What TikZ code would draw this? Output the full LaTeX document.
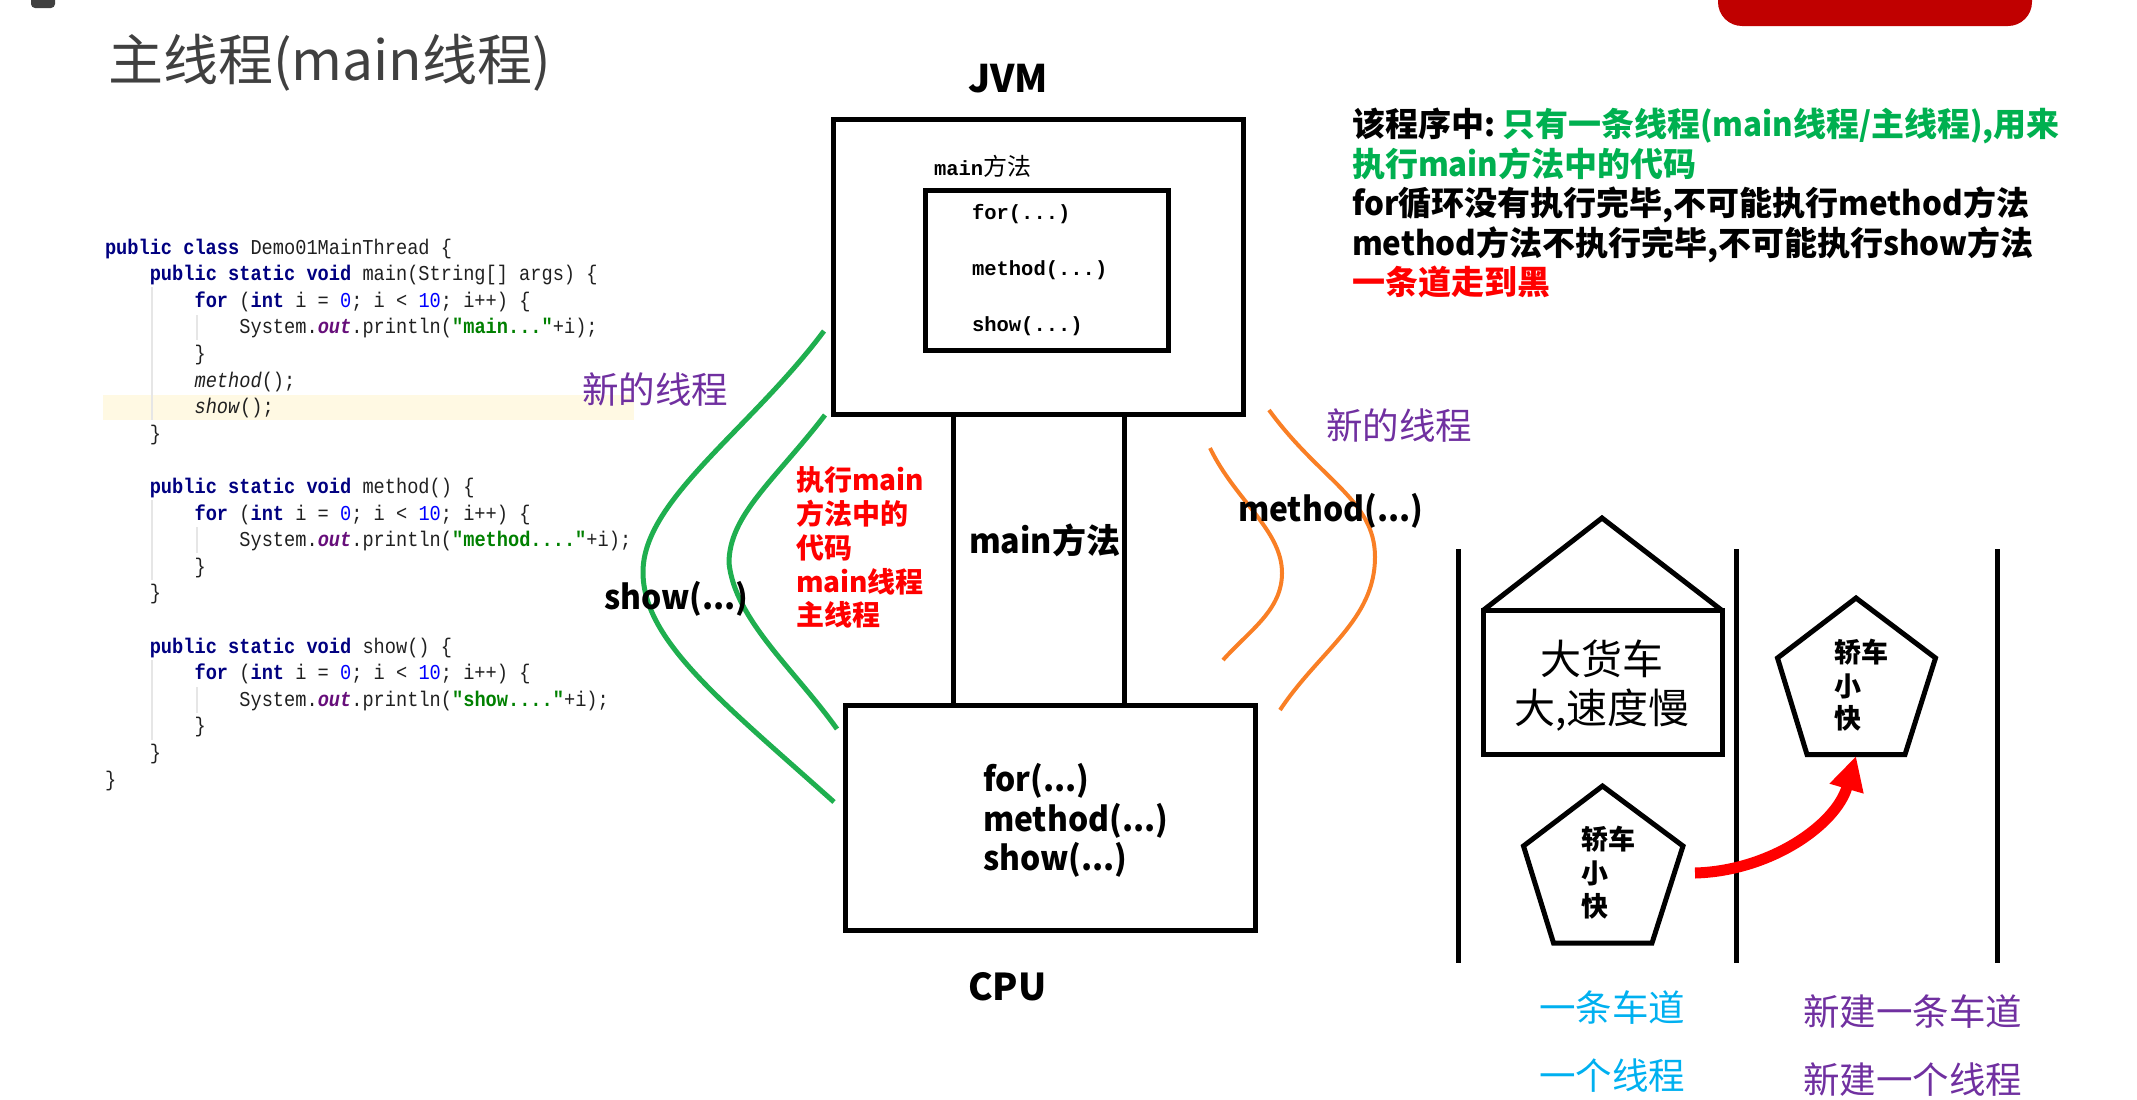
\documentclass[tikz,border=0pt]{standalone}
\usepackage{fontspec}
\usetikzlibrary{arrows.meta}
\setmainfont{Noto Sans CJK SC}
\setmonofont{Liberation Mono}[FakeStretch=0.88]
\newfontfamily\codefont{Liberation Mono}
\newfontfamily\latnarrow{Noto Sans CJK SC}[FakeStretch=0.95]
\newcommand{\lat}[1]{{\latnarrow #1}}
\newcommand{\fs}[1]{\fontsize{#1}{#1}\selectfont}
% syntax colouring for the Java listing
\definecolor{kwblue}{HTML}{000080}
\definecolor{numblue}{HTML}{0000FF}
\definecolor{strgreen}{HTML}{008000}
\definecolor{fieldpurple}{HTML}{660E7A}
\definecolor{codeink}{HTML}{202020}
\definecolor{caretline}{HTML}{FFF9E3}
\definecolor{guide}{HTML}{E6E6E6}
\definecolor{slidegrey}{HTML}{404040}
\definecolor{threadpurple}{HTML}{7030A0}
\definecolor{laneblue}{HTML}{00B0F0}
\definecolor{okgreen}{HTML}{00B050}
\definecolor{threadgreen}{HTML}{1FAF4F}
\definecolor{threadorange}{HTML}{F97F25}
\definecolor{pillred}{HTML}{C00000}
\newcommand{\kw}[1]{\textcolor{kwblue}{\bfseries #1}}
\newcommand{\nm}[1]{\textcolor{numblue}{#1}}
\newcommand{\str}[1]{\textcolor{strgreen}{\bfseries #1}}
\newcommand{\fld}[1]{\textcolor{fieldpurple}{\bfseries\itshape #1}}
\newcommand{\codeline}[3]{\node[codetext] (code#1) at ({105+#2*44.8},{254+#1*26.6}) {#3};}
\tikzset{
  txt/.style={inner sep=0pt,outer sep=0pt,anchor=base west},
  codetext/.style={txt,text=codeink,font=\ttfamily\fs{21.2}},
  title/.style={txt,text=slidegrey,font=\fs{55}},
  heavy/.style={txt,font=\bfseries\fs{#1}},
  narrowheavy/.style={txt,font=\latnarrow\bfseries\fs{#1}},
  light/.style={txt,font=\fs{36.5}},
  inbox/.style={txt,font=\codefont\bfseries\fs{20.5}},
  box/.style={draw=black,line width=5pt,line join=miter},
  guideline/.style={draw=guide,line width=1.2pt},
  greenthread/.style={draw=threadgreen,line width=5pt},
  orangethread/.style={draw=threadorange,line width=4pt},
  lane/.style={draw=black,line width=5pt},
}
\begin{document}
\begin{tikzpicture}[x=1pt,y=-1pt]
\useasboundingbox (0,0) rectangle (2137,1100);
\begin{scope}
  \clip (0,0) rectangle (2137,1100);
  \fill[slidegrey,rounded corners=4pt] (31,-20) rectangle (55,8);
  \fill[pillred,rounded corners=24pt] (1718,-40) rectangle (2032,26);
\end{scope}
\node[title] (heading) at (108,80) {主线程(main线程)};

% highlighted line and indent guides of the listing
\fill[caretline] (103,395) rectangle (634,420);
\foreach \x/\a/\b in {152/287/420,197/315/340,152/500/580,197/527/553,152/660/740,197/687/713}
  \draw[guideline] (\x,\a) -- (\x,\b);

\codeline{0}{0}{\kw{public class} Demo01MainThread \{}
\codeline{1}{1}{\kw{public static void} main(String[] args) \{}
\codeline{2}{2}{\kw{for} (\kw{int} i = \nm{0}; i < \nm{10}; i++) \{}
\codeline{3}{3}{System.\fld{out}.println(\str{"main..."}+i);}
\codeline{4}{2}{\}}
\codeline{5}{2}{\textit{method}();}
\codeline{6}{2}{\textit{show}();}
\codeline{7}{1}{\}}
\codeline{9}{1}{\kw{public static void} method() \{}
\codeline{10}{2}{\kw{for} (\kw{int} i = \nm{0}; i < \nm{10}; i++) \{}
\codeline{11}{3}{System.\fld{out}.println(\str{"method...."}+i);}
\codeline{12}{2}{\}}
\codeline{13}{1}{\}}
\codeline{15}{1}{\kw{public static void} show() \{}
\codeline{16}{2}{\kw{for} (\kw{int} i = \nm{0}; i < \nm{10}; i++) \{}
\codeline{17}{3}{System.\fld{out}.println(\str{"show...."}+i);}
\codeline{18}{2}{\}}
\codeline{19}{1}{\}}
\codeline{20}{0}{\}}

% JVM and CPU boxes joined by the main method column
\draw[box] (833,119) rectangle (1243,414);
\draw[box] (925,190) rectangle (1168,350);
\draw[box] (845,705) rectangle (1255,930);
\coordinate (jvmL) at (953,414);
\coordinate (jvmR) at (1124,414);
\coordinate (cpuL) at (953,705);
\coordinate (cpuR) at (1124,705);
\draw[box] (jvmL) -- (cpuL);
\draw[box] (jvmR) -- (cpuR);

\node[heavy=38] (jvmlabel) at (968,92) {JVM};
\node[heavy=37] (cpulabel) at (968,1000) {CPU};
\node[inbox] (inhead) at (934,175) {main{\rmfamily\mdseries\fs{24}方法}};
\node[inbox] (infor) at (972,219) {for(...)};
\node[inbox] (inmethod) at (972,275) {method(...)};
\node[inbox] (inshow) at (972,331) {show(...)};
\node[narrowheavy=33.5] (cpufor) at (983,791) {for(...)};
\node[narrowheavy=33.5] (cpumethod) at (983,831) {method(...)};
\node[narrowheavy=33.5] (cpushow) at (983,870) {show(...)};
\node[heavy=34] (columnlabel) at (969,553) {\lat{main}方法};

% new-thread paths drawn by hand
\draw[greenthread] (824,331) .. controls (750,430) and (643,500) .. (643,572) .. controls (643,640) and (720,700) .. (834,802);
\draw[greenthread] (825,415) .. controls (775,480) and (729,515) .. (729,563) .. controls (735,620) and (795,670) .. (837,729);
\draw[orangethread] (1269,410) .. controls (1320,480) and (1375,500) .. (1375,557) .. controls (1375,620) and (1320,650) .. (1280,710);
\draw[orangethread] (1210,448) .. controls (1235,500) and (1282,530) .. (1282,573) .. controls (1282,610) and (1250,630) .. (1223,660);

\node[narrowheavy=33.5] (showlabel) at (604,609) {show(...)};
\node[narrowheavy=33.5] (methodlabel) at (1238,521) {method(...)};
\node[light,text=threadpurple] (newL) at (582,403) {新的线程};
\node[light,text=threadpurple] (newR) at (1326,439) {新的线程};

\foreach \n/\y/\t in {a/490/执行main,b/524/方法中的,c/558/代码,d/592/main线程,e/625/主线程}
  \node[heavy=28,text=red] (exec\n) at (796,\y) {\t};

% explanation at the upper right
\node[heavy=33] (note1) at (1352,136) {该程序中\lat{:}\hspace{7pt}\textcolor{okgreen}{只有一条线程\lat{(main}线程\lat{/}主线程\lat{),}用来}};
\node[heavy=33,text=okgreen] (note2) at (1352,176) {执行\lat{main}方法中的代码};
\node[heavy=33] (note3) at (1352,215) {\lat{for}循环没有执行完毕\lat{,}不可能执行\lat{method}方法};
\node[heavy=33] (note4) at (1352,255) {\lat{method}方法不执行完毕\lat{,}不可能执行\lat{show}方法};
\node[heavy=33,text=red] (note5) at (1352,294) {一条道走到黑};

% road analogy
\draw[lane] (1458,549) -- (1458,963);
\draw[lane] (1736,549) -- (1736,963);
\draw[lane] (1997,549) -- (1997,963);
\draw[box] (1483,610.5) rectangle (1722,754.5);
\draw[box] (1483,610.5) -- (1602,518) -- (1722,610.5);
\node[txt,anchor=center,font=\fs{41}] (truck1) at (1602,659) {大货车};
\node[txt,anchor=center,font=\fs{41}] (truck2) at (1602,710) {大,速度慢};

\draw[box] (1602.5,786) -- (1683,846) -- (1652,943) -- (1553.5,943) -- (1523.5,846) -- cycle;
\draw[box] (1856,598) -- (1935.5,658) -- (1905,754.5) -- (1807,754.5) -- (1777.5,658) -- cycle;
\node[heavy=27] (carA1) at (1581,849) {轿车};
\node[heavy=27] (carA2) at (1581,883) {小};
\node[heavy=27] (carA3) at (1581,916) {快};
\node[heavy=27] (carB1) at (1834,662) {轿车};
\node[heavy=27] (carB2) at (1834,696) {小};
\node[heavy=27] (carB3) at (1834,728) {快};

\coordinate (laneStart) at (1695,873);
\coordinate (laneEnd) at (1856,756);
\draw[red,line width=11pt,-{Triangle[length=34pt,width=33pt]}] (laneStart) .. controls (1770,871) and (1836,825) .. (laneEnd);

\node[light,text=laneblue] (laneA1) at (1539,1021) {一条车道};
\node[light,text=laneblue] (laneA2) at (1539,1089) {一个线程};
\node[light,text=threadpurple] (laneB1) at (1803,1025) {新建一条车道};
\node[light,text=threadpurple] (laneB2) at (1803,1093) {新建一个线程};
\end{tikzpicture}
\end{document}
